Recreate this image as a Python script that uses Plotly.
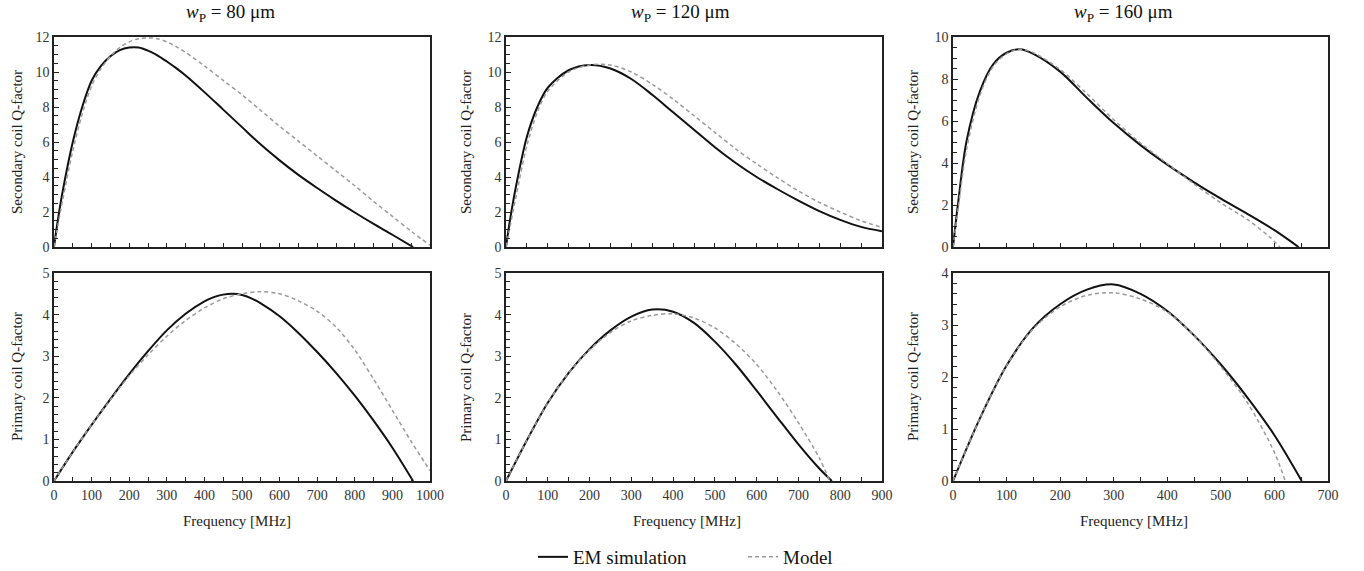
import plotly.graph_objects as go
from plotly.subplots import make_subplots

# ---------------- data ----------------
titles = ["80", "120", "160"]
x_max = [1000, 900, 700]

# Secondary coil Q-factor (top row)
s80_em_f = [0, 10, 25, 50, 75, 100, 125, 150, 175, 200, 225, 250, 275, 300, 325, 350, 400, 450, 500, 550, 600, 650, 700, 750, 800, 850, 900, 955]
s80_em_q = [0, 1.5, 3.4, 6.0, 8.0, 9.5, 10.35, 10.9, 11.25, 11.4, 11.4, 11.22, 10.95, 10.6, 10.22, 9.8, 8.85, 7.85, 6.85, 5.85, 4.95, 4.12, 3.37, 2.65, 1.97, 1.32, 0.7, 0]
s80_md_f = [0, 10, 25, 50, 75, 100, 125, 150, 175, 200, 225, 250, 275, 300, 325, 350, 400, 450, 500, 550, 600, 650, 700, 750, 800, 850, 900, 950, 1000]
s80_md_q = [0, 1.2, 2.9, 5.5, 7.6, 9.2, 10.2, 10.9, 11.4, 11.72, 11.9, 11.95, 11.9, 11.72, 11.45, 11.12, 10.35, 9.52, 8.7, 7.8, 6.9, 6.05, 5.2, 4.35, 3.5, 2.6, 1.75, 0.9, 0.1]

s120_em_f = [0, 10, 25, 50, 75, 100, 150, 200, 250, 300, 350, 400, 450, 500, 550, 600, 650, 700, 750, 800, 850, 900]
s120_em_q = [0, 1.6, 3.6, 6.3, 8.0, 9.1, 10.1, 10.4, 10.2, 9.6, 8.7, 7.7, 6.7, 5.7, 4.8, 4.0, 3.3, 2.65, 2.05, 1.55, 1.15, 0.9]
s120_md_f = [0, 10, 25, 50, 75, 100, 150, 200, 250, 300, 350, 400, 450, 500, 550, 600, 650, 700, 750, 800, 850, 900]
s120_md_q = [0, 1.2, 3.0, 5.8, 7.7, 8.9, 10.0, 10.4, 10.4, 10.0, 9.3, 8.45, 7.5, 6.55, 5.6, 4.75, 3.95, 3.2, 2.55, 2.0, 1.5, 1.12]

s160_em_f = [0, 10, 25, 50, 75, 100, 125, 150, 200, 250, 300, 350, 400, 450, 500, 550, 600, 645]
s160_em_q = [0, 2.2, 5.0, 7.4, 8.7, 9.25, 9.42, 9.2, 8.35, 7.1, 5.9, 4.85, 3.92, 3.08, 2.3, 1.57, 0.8, 0]
s160_md_f = [0, 10, 25, 50, 75, 100, 125, 150, 200, 250, 300, 350, 400, 450, 500, 550, 590, 610]
s160_md_q = [0, 1.9, 4.6, 7.2, 8.6, 9.2, 9.42, 9.25, 8.45, 7.3, 6.06, 4.95, 3.97, 3.0, 2.1, 1.3, 0.5, 0]

# Primary coil Q-factor (bottom row)
p80_em_f = [0, 50, 100, 150, 200, 250, 300, 350, 400, 425, 450, 475, 500, 525, 550, 600, 650, 700, 750, 800, 850, 900, 955]
p80_em_q = [0, 0.7, 1.35, 1.97, 2.57, 3.12, 3.62, 4.02, 4.32, 4.42, 4.48, 4.5, 4.47, 4.39, 4.27, 3.96, 3.56, 3.1, 2.6, 2.05, 1.45, 0.8, 0]
p80_md_f = [0, 50, 100, 150, 200, 250, 300, 350, 400, 450, 500, 550, 600, 650, 700, 750, 800, 850, 900, 950, 1000]
p80_md_q = [0, 0.7, 1.35, 1.95, 2.53, 3.03, 3.48, 3.86, 4.16, 4.38, 4.5, 4.55, 4.5, 4.33, 4.08, 3.7, 3.15, 2.45, 1.7, 0.95, 0.25]

p120_em_f = [0, 50, 100, 150, 200, 250, 300, 350, 400, 450, 500, 550, 600, 650, 700, 750, 780]
p120_em_q = [0, 0.98, 1.88, 2.6, 3.17, 3.62, 3.95, 4.12, 4.07, 3.8, 3.35, 2.8, 2.17, 1.52, 0.88, 0.3, 0]
p120_md_f = [0, 50, 100, 150, 200, 250, 300, 350, 400, 450, 500, 550, 600, 650, 700, 750, 775]
p120_md_q = [0, 0.98, 1.88, 2.6, 3.15, 3.57, 3.85, 3.98, 4.02, 3.92, 3.68, 3.3, 2.8, 2.15, 1.4, 0.55, 0]

p160_em_f = [0, 50, 100, 150, 200, 250, 300, 350, 400, 450, 500, 550, 600, 651]
p160_em_q = [0, 1.2, 2.22, 2.95, 3.4, 3.68, 3.78, 3.6, 3.27, 2.8, 2.24, 1.6, 0.88, 0]
p160_md_f = [0, 50, 100, 150, 200, 250, 300, 350, 400, 450, 500, 550, 600, 620]
p160_md_q = [0, 1.2, 2.22, 2.93, 3.35, 3.57, 3.62, 3.5, 3.25, 2.8, 2.2, 1.5, 0.55, 0]

top_em = [(s80_em_f, s80_em_q), (s120_em_f, s120_em_q), (s160_em_f, s160_em_q)]
top_md = [(s80_md_f, s80_md_q), (s120_md_f, s120_md_q), (s160_md_f, s160_md_q)]
bot_em = [(p80_em_f, p80_em_q), (p120_em_f, p120_em_q), (p160_em_f, p160_em_q)]
bot_md = [(p80_md_f, p80_md_q), (p120_md_f, p120_md_q), (p160_md_f, p160_md_q)]

top_yrange = [(12, 2, 0.5), (12, 2, 0.5), (10, 2, 0.5)]
bot_yrange = [(5, 1, 0.2), (5, 1, 0.2), (4, 1, 0.2)]

# ---------------- figure ----------------
W, H = 1364, 571
FONT = "Liberation Serif"
fig = make_subplots(rows=2, cols=3)

em_style = dict(color="#111111", width=2)
md_style = dict(color="#9a9a9a", width=1.5, dash="4px,3px")

for c in range(3):
    for r, em, md in ((1, top_em, top_md), (2, bot_em, bot_md)):
        show = (r == 1 and c == 0)
        fig.add_trace(go.Scatter(x=em[c][0], y=em[c][1], mode="lines", name="EM simulation",
                                 line=dict(shape="spline", smoothing=0.9, **em_style),
                                 showlegend=show, legendrank=1), row=r, col=c + 1)
        fig.add_trace(go.Scatter(x=md[c][0], y=md[c][1], mode="lines", name="Model",
                                 line=dict(shape="spline", smoothing=0.9, **md_style),
                                 showlegend=show, legendrank=2), row=r, col=c + 1)

x_px = [(54, 430), (506, 882), (953, 1328)]
top_px = (37, 247)
bot_px = (273, 481)


def ydom(p):
    return [(H - p[1]) / H, (H - p[0]) / H]


axis_common = dict(showline=True, linecolor="#222222", linewidth=1.5, mirror=True,
                   ticks="inside", tickcolor="#222222", tickwidth=1.2,
                   showgrid=False, zeroline=False,
                   tickfont=dict(family=FONT, size=14, color="#333333"))

for c in range(3):
    xd = [x_px[c][0] / W, x_px[c][1] / W]
    for r in (1, 2):
        idx = (r - 1) * 3 + c + 1
        xa = "xaxis" if idx == 1 else f"xaxis{idx}"
        ya = "yaxis" if idx == 1 else f"yaxis{idx}"
        yr = top_yrange[c] if r == 1 else bot_yrange[c]
        fig.layout[xa].update(domain=xd, range=[0, x_max[c]], dtick=100, ticklen=4,
                              minor=dict(dtick=50, ticks="inside", ticklen=4, tickcolor="#222222"),
                              showticklabels=(r == 2), **axis_common)
        fig.layout[ya].update(domain=ydom(top_px if r == 1 else bot_px), range=[0, yr[0]],
                              dtick=yr[1], ticklen=5,
                              minor=dict(dtick=yr[2], ticks="inside", ticklen=4, tickcolor="#222222"),
                              **axis_common)

annotations = []
ylab_x = [17, 466, 913]
title_x = [231, 680, 1123]
xlab_x = [237, 687, 1134]
for c in range(3):
    base = dict(xref="paper", yref="paper", showarrow=False, xanchor="center", yanchor="middle")
    annotations.append(dict(text=f"<i>w</i><sub>P</sub> = {titles[c]} μm", x=title_x[c] / W, y=1 - 13 / H,
                            font=dict(family=FONT, size=19, color="#111111"), **base))
    annotations.append(dict(text="Frequency [MHz]", x=xlab_x[c] / W, y=1 - 521 / H,
                            font=dict(family=FONT, size=15, color="#222222"), **base))
    annotations.append(dict(text="Secondary coil Q-factor", x=ylab_x[c] / W,
                            y=1 - (top_px[0] + top_px[1]) / 2 / H, textangle=-90,
                            font=dict(family=FONT, size=15, color="#222222"), **base))
    annotations.append(dict(text="Primary coil Q-factor", x=ylab_x[c] / W,
                            y=1 - (bot_px[0] + bot_px[1]) / 2 / H, textangle=-90,
                            font=dict(family=FONT, size=15, color="#222222"), **base))

fig.update_layout(
    width=W, height=H, autosize=False,
    margin=dict(l=0, r=0, t=0, b=0, autoexpand=False),
    paper_bgcolor="white", plot_bgcolor="white",
    font=dict(family=FONT),
    annotations=annotations,
    showlegend=True,
    legend=dict(orientation="h", x=533 / W, xanchor="left", y=1 - 557 / H, yanchor="middle",
                font=dict(family=FONT, size=19, color="#111111"),
                itemwidth=30, entrywidth=165, tracegroupgap=0, bgcolor="rgba(0,0,0,0)"),
)

fig.write_html("out.html")
